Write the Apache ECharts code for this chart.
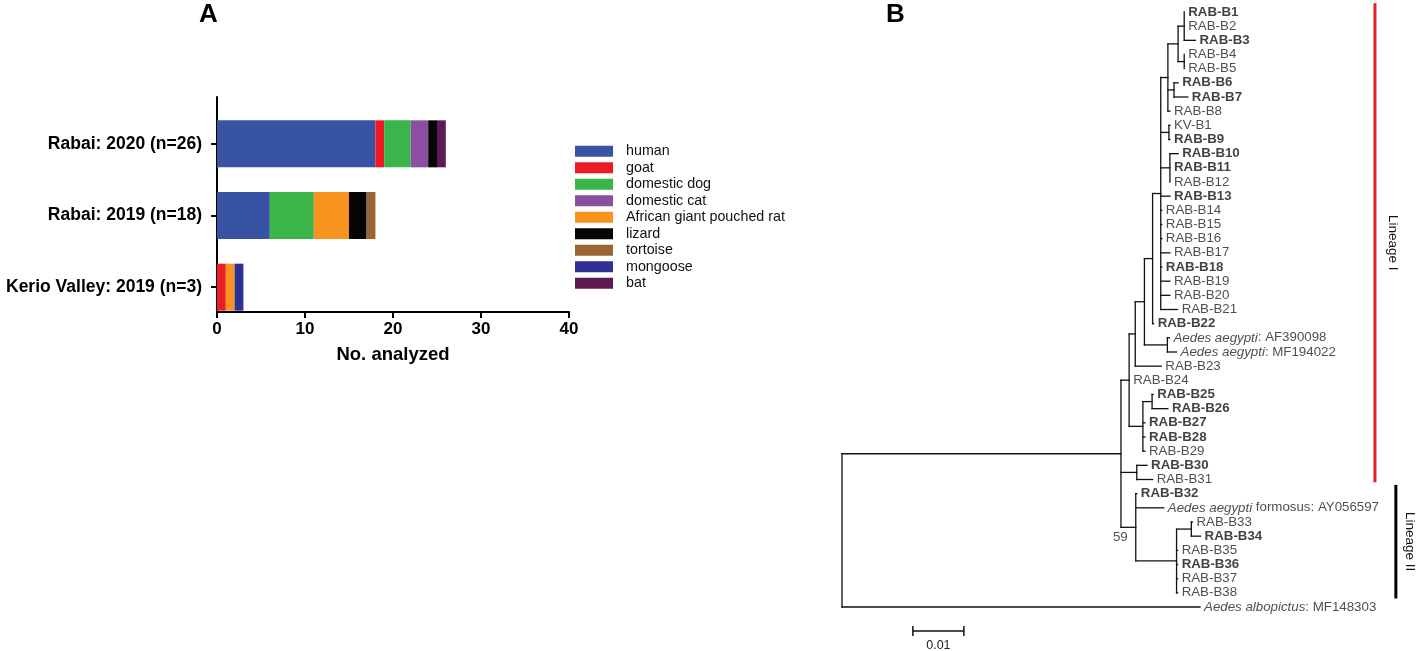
<!DOCTYPE html>
<html>
<head>
<meta charset="utf-8">
<title>Rabies sampling and phylogeny</title>
<script src="https://cdn.jsdelivr.net/npm/echarts@6/dist/echarts.min.js"></script>
<style>
html, body { margin: 0; padding: 0; background: #fff; }
#main { width: 1417px; height: 651px; }
</style>
</head>
<body>
<div id="main"></div>
<script>
// ---- panel A: samples per site and host ----
var sites = ['Rabai: 2020 (n=26)', 'Rabai: 2019 (n=18)', 'Kerio Valley: 2019 (n=3)'];
var hosts = ['human', 'goat', 'domestic dog', 'domestic cat', 'African giant pouched rat', 'lizard', 'tortoise', 'mongoose', 'bat'];
var hostColors = ['#3953a4', '#ed1c24', '#39b54a', '#8b4f9f', '#f7931e', '#050505', '#996633', '#2e3192', '#5e1953'];
// counts in the order of sites
var human = [18, 6, 0];
var goat = [1, 0, 1];
var dog = [3, 5, 0];
var cat = [2, 0, 0];
var pouchedRat = [0, 4, 1];
var lizard = [1, 2, 0];
var tortoise = [0, 1, 0];
var mongoose = [0, 0, 1];
var bat = [1, 0, 0];
var hostCounts = [human, goat, dog, cat, pouchedRat, lizard, tortoise, mongoose, bat];
var countTicks = [0, 10, 20, 30, 40];

// ---- panel B: tree, branch lengths in substitutions/site ----
var treeNewick = '((((((((((RAB-B1:0,RAB-B2:0,RAB-B3:0.0022):0.0012,(RAB-B4:0,RAB-B5:0):0.0012):0.0020,' +
    '(RAB-B6:0.0008,RAB-B7:0.0027):0.0012,RAB-B8:0.0004):0.0014,(KV-B1:0.0002,RAB-B9:0.0002):0.0016,' +
    '(RAB-B10:0.0016,RAB-B11:0,RAB-B12:0):0.0018,RAB-B13:0.0018,RAB-B14:0.0002,RAB-B15:0.0002,' +
    'RAB-B16:0.0002,RAB-B17:0.0018,RAB-B18:0.0002,RAB-B19:0.0018,RAB-B20:0.0018,RAB-B21:0.0033):0.0016,' +
    'RAB-B22:0.0002):0.0016,(AF390098:0.0004,MF194022:0.0018):0.0045):0.0018,RAB-B23:0.0051):0.0012,' +
    'RAB-B24:0,((RAB-B25:0.0002,RAB-B26:0.0031):0.0018,RAB-B27:0.0004,RAB-B28:0.0004,RAB-B29:0.0004):0.0027):0.0016,' +
    '(RAB-B30:0.0020,RAB-B31:0.0031):0.0031,(RAB-B32:0.0002,AY056597:0.0055,((RAB-B33:0.0002,RAB-B34:0.0018):0.0029,' +
    'RAB-B35:0.0002,RAB-B36:0.0002,RAB-B37:0.0002,RAB-B38:0.0002):0.0080)59:0.0029):0.0547,MF148303:0.0702);';
var boldTaxa = ['RAB-B1', 'RAB-B3', 'RAB-B6', 'RAB-B7', 'RAB-B9', 'RAB-B10', 'RAB-B11', 'RAB-B13', 'RAB-B18',
    'RAB-B22', 'RAB-B25', 'RAB-B26', 'RAB-B27', 'RAB-B28', 'RAB-B30', 'RAB-B32', 'RAB-B34', 'RAB-B36'];
var speciesLabels = {
    AF390098: ['Aedes aegypti', ': AF390098'],
    MF194022: ['Aedes aegypti', ': MF194022'],
    AY056597: ['Aedes aegypti', ' formosus: AY056597'],
    MF148303: ['Aedes albopictus', ': MF148303']
};
var lineageNames = ['Lineage I', 'Lineage II'];
var lineageFirst = ['RAB-B1', 'RAB-B32'];
var lineageLast = ['RAB-B31', 'RAB-B38'];
var lineageColors = ['#ed1c24', '#000000'];
var scaleBarLength = 0.01;

var FONT = '"Liberation Sans", Arial, sans-serif';
var TAXON_SIZE = 13.3;

function parseNewick(s) {
    var i = 0;
    function node() {
        var n = { children: [], name: '', len: 0 };
        if (s[i] === '(') {
            i++;
            n.children.push(node());
            while (s[i] === ',') { i++; n.children.push(node()); }
            i++; // ')'
        }
        var m = /^[^:,();]*/.exec(s.slice(i))[0];
        n.name = m;
        i += m.length;
        if (s[i] === ':') {
            i++;
            var l = /^[0-9.eE-]+/.exec(s.slice(i))[0];
            n.len = parseFloat(l);
            i += l.length;
        }
        return n;
    }
    return node();
}

var leaves = [], branches = [], supports = [];

function place(n, x0) {
    n.x = x0 + n.len;
    if (!n.children.length) {
        n.y = leaves.length + 1;
        leaves.push(n);
        return;
    }
    n.children.forEach(function (c) { place(c, n.x); });
    var first = n.children[0], last = n.children[n.children.length - 1];
    n.y = (first.y + last.y) / 2;
    branches.push([n.x, first.y, n.x, last.y]);
    n.children.forEach(function (c) { branches.push([n.x, c.y, c.x, c.y]); });
    if (n.name) supports.push([n.x, n.y, n.name]);
}

var tree = parseNewick(treeNewick);
place(tree, 0);

var leafRow = {};
leaves.forEach(function (l) { leafRow[l.name] = l.y; });

function leafLabel(name) {
    var sp = speciesLabels[name];
    if (sp) return '{i|' + sp[0] + '}{n|' + sp[1] + '}';
    return (boldTaxa.indexOf(name) >= 0 ? '{b|' : '{n|') + name + '}';
}

var lineageData = lineageNames.map(function (name, k) {
    return [leafRow[lineageFirst[k]], leafRow[lineageLast[k]], k];
});

var chart = echarts.init(document.getElementById('main'));

var axisBlack = { color: '#000', width: 2 };

var option = {
    animation: false,
    textStyle: { fontFamily: FONT },
    title: [
        { text: 'A', left: 199, top: 2, padding: 0, textStyle: { fontSize: 26, fontWeight: 'bold', color: '#000', fontFamily: FONT } },
        { text: 'B', left: 886, top: 2, padding: 0, textStyle: { fontSize: 26, fontWeight: 'bold', color: '#000', fontFamily: FONT } }
    ],
    legend: {
        data: hosts,
        orient: 'vertical',
        left: 570,
        top: 138,
        itemWidth: 38,
        itemHeight: 11,
        itemGap: 0,
        icon: 'rect',
        selectedMode: false,
        textStyle: { fontSize: 14.3, lineHeight: 16.5, color: '#111', fontFamily: FONT, padding: [0, 0, 0, 8] }
    },
    grid: [
        // frame for panel A axes
        { left: 217, top: 97, width: 352, height: 215 },
        // bars of panel A
        { left: 217, top: 108, width: 352, height: 215 },
        // tree
        { left: 842, top: 12, width: 561, height: 595 }
    ],
    xAxis: [
        {
            gridIndex: 0, type: 'value', min: 0, max: 40, interval: 10,
            name: 'No. analyzed', nameLocation: 'middle', nameGap: 33,
            nameTextStyle: { fontSize: 18.5, fontWeight: 'bold', color: '#000' },
            axisLine: { show: true, lineStyle: axisBlack },
            axisTick: { show: true, length: 6, lineStyle: axisBlack },
            axisLabel: { fontSize: 17, fontWeight: 'bold', color: '#000', margin: 9,
                formatter: function (v) { return countTicks.indexOf(v) >= 0 ? String(v) : ''; } },
            splitLine: { show: false }
        },
        { gridIndex: 1, type: 'value', min: 0, max: 40, show: false },
        { gridIndex: 2, type: 'value', min: 0, max: 0.11, show: false }
    ],
    yAxis: [
        {
            gridIndex: 0, type: 'value', min: 0, max: 1,
            axisLine: { show: true, lineStyle: axisBlack },
            axisTick: { show: false }, axisLabel: { show: false }, splitLine: { show: false }
        },
        {
            gridIndex: 1, type: 'category', data: sites, inverse: true,
            axisLine: { show: false },
            axisTick: { show: true, alignWithLabel: true, length: 6, lineStyle: axisBlack },
            axisLabel: { fontSize: 17.5, fontWeight: 'bold', color: '#000', margin: 15 }
        },
        { gridIndex: 2, type: 'value', min: 1, max: 43, inverse: true, show: false }
    ],
    series: hosts.map(function (h, k) {
        return {
            name: h, type: 'bar', stack: 'hosts',
            xAxisIndex: 1, yAxisIndex: 1,
            barWidth: 47,
            itemStyle: { color: hostColors[k] },
            data: hostCounts[k]
        };
    }).concat([
        {
            // branches
            type: 'custom', xAxisIndex: 2, yAxisIndex: 2, silent: true,
            data: branches,
            encode: { x: [0, 2], y: [1, 3] },
            renderItem: function (params, api) {
                var a = api.coord([api.value(0), api.value(1)]);
                var b = api.coord([api.value(2), api.value(3)]);
                return {
                    type: 'line',
                    shape: { x1: a[0], y1: a[1], x2: b[0], y2: b[1] },
                    style: { stroke: '#111', lineWidth: 1.3, lineCap: 'square' }
                };
            }
        },
        {
            // taxon names
            type: 'scatter', xAxisIndex: 2, yAxisIndex: 2, silent: true,
            symbolSize: 0.1,
            itemStyle: { color: 'rgba(0,0,0,0)' },
            data: leaves.map(function (l) { return [l.x, l.y, l.name]; }),
            label: {
                show: true, position: 'right', distance: 4,
                formatter: function (p) { return leafLabel(p.data[2]); },
                rich: {
                    n: { fontSize: TAXON_SIZE, color: '#222', fontFamily: FONT },
                    b: { fontSize: TAXON_SIZE, color: '#111', fontWeight: 'bold', fontFamily: FONT },
                    i: { fontSize: TAXON_SIZE, color: '#222', fontStyle: 'italic', fontFamily: FONT }
                }
            }
        },
        {
            // bootstrap support
            type: 'scatter', xAxisIndex: 2, yAxisIndex: 2, silent: true,
            symbolSize: 0.1,
            itemStyle: { color: 'rgba(0,0,0,0)' },
            data: supports,
            label: {
                show: true, position: 'left', distance: 8, offset: [0, 10],
                formatter: function (p) { return p.data[2]; },
                fontSize: TAXON_SIZE, color: '#222', fontFamily: FONT
            }
        },
        {
            // lineage bars
            type: 'custom', xAxisIndex: 2, yAxisIndex: 2, silent: true,
            data: lineageData,
            renderItem: function (params, api) {
                var k = api.value(2);
                var barX = [0.1045, 0.1086][k];
                var top = api.coord([barX, api.value(0) - 0.62]);
                var bot = api.coord([barX, api.value(1) + (k === 0 ? 0.2 : 0.4)]);
                return {
                    type: 'group',
                    children: [
                        { type: 'line', shape: { x1: top[0], y1: top[1], x2: bot[0], y2: bot[1] },
                          style: { stroke: lineageColors[k], lineWidth: 3 } },
                        { type: 'text', x: top[0] + (k === 0 ? 18 : 14), y: (top[1] + bot[1]) / 2, rotation: -Math.PI / 2,
                          style: { text: lineageNames[k], fill: '#111', fontSize: 13.5, fontFamily: FONT,
                                   align: 'center', verticalAlign: 'middle' } }
                    ]
                };
            }
        },
        {
            // scale bar
            type: 'custom', xAxisIndex: 2, yAxisIndex: 2, silent: true,
            data: [[0.0139, 44.7, scaleBarLength]],
            renderItem: function (params, api) {
                var a = api.coord([api.value(0), api.value(1)]);
                var b = api.coord([api.value(0) + api.value(2), api.value(1)]);
                var st = { stroke: '#111', lineWidth: 1.5 };
                return {
                    type: 'group',
                    children: [
                        { type: 'line', shape: { x1: a[0], y1: a[1], x2: b[0], y2: b[1] }, style: st },
                        { type: 'line', shape: { x1: a[0], y1: a[1] - 5, x2: a[0], y2: a[1] + 5 }, style: st },
                        { type: 'line', shape: { x1: b[0], y1: b[1] - 5, x2: b[0], y2: b[1] + 5 }, style: st },
                        { type: 'text', x: (a[0] + b[0]) / 2, y: a[1] + 14,
                          style: { text: String(api.value(2)), fill: '#222', fontSize: 12.5, fontFamily: FONT,
                                   align: 'center', verticalAlign: 'middle' } }
                    ]
                };
            }
        }
    ])
};

chart.setOption(option);
</script>
</body>
</html>
